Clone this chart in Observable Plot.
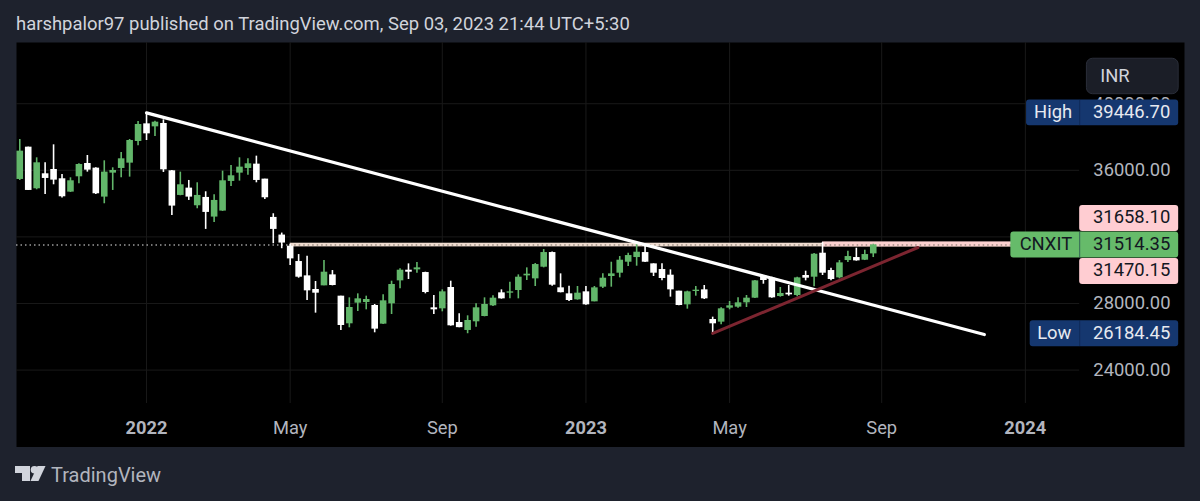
<!DOCTYPE html>
<html><head><meta charset="utf-8">
<style>
html,body{margin:0;padding:0;background:#1e222d;width:1200px;height:501px;overflow:hidden;font-family:Roboto,sans-serif}
#title{height:42px;line-height:49px;padding-left:16px;font-size:18.45px;color:#d1d4dc;white-space:nowrap}
#chart svg{display:block}
#foot{height:54px;position:relative}
#foot svg{position:absolute;left:15px;top:19px}
#foot span{position:absolute;left:51px;top:14px;font-size:20px;line-height:28px;color:#b2b5be}
</style>
<script src="https://cdn.jsdelivr.net/npm/d3@7"></script>
<script src="https://cdn.jsdelivr.net/npm/@observablehq/plot@0.6"></script>
</head><body>
<div id="title">harshpalor97 published on TradingView.com, Sep 03, 2023 21:44 UTC+5:30</div>
<div id="chart"></div>
<div id="foot"><svg width="31" height="16" viewBox="0 0 31 16"><path fill="#d1d4dc" d="M0 0H15V15H7V7H0Z"/><circle fill="#d1d4dc" cx="19.5" cy="3.8" r="3.8"/><path fill="#d1d4dc" d="M22.5 0H30.5L23.5 15H15.5Z"/></svg><span>TradingView</span></div>
<script>
const opens=[35450,37390,34890,35790,36050,35490,34690,35610,36410,36130,34390,35830,36110,36430,37730,
38790,38610,38810,35970,34490,34930,33870,34370,33190,33550,
35330,35830,36110,36370,35470,33170,32110,31440,30520,29660,
28840,29060,29720,28440,26780,28020,28060,27880,26760,27980,
29360,30000,30020,29860,27740,27680,28960,26860,26380,26900,
27220,27860,28640,28620,28780,29660,29480,30180,31060,28940,
28580,28220,28700,28100,28980,29620,29820,30480,30760,31060,
30380,30040,29700,28740,27920,28720,28820,27040,26880,27720,
27780,28040,28320,29640,29520,28420,28620,28480,29680,29580,
31020,29980,29540,30580,30760,30600,30980];
const highs=[37850,37390,36750,36450,37530,35750,35550,36390,36890,36150,36570,36150,37070,37850,38930,
39446.7,38950,39030,35990,35890,35390,35250,34710,34530,35950,
36290,36750,36690,36850,35470,33390,32230,31540,30940,30840,
29320,30580,29980,28440,28340,28580,28440,27940,28520,29340,
30080,30380,30460,29880,28480,28820,29340,27380,27260,27980,
28340,28460,28820,29280,29720,30140,30400,31240,31100,29780,
29040,29020,29020,29020,29780,30480,30820,31020,31580,31540,
30380,30380,30020,28740,28740,29020,29080,27180,27740,28120,
28340,28480,29380,29680,29580,28960,29080,29580,29940,31000,
31658.1,30120,30580,31140,31320,31200,31560];
const lows=[35390,34790,34830,34550,35130,34330,34670,35190,35890,34550,33990,34790,35550,35590,37470,
37790,38030,35870,33290,34470,34190,33690,32450,32870,33530,
35030,35350,35710,35250,34250,31590,31290,30280,29520,28180,
27420,29060,29060,26380,26540,27520,27620,26240,26740,27340,
28880,29440,29820,28580,27340,27500,26640,26540,26184.45,26580,
27200,27820,28260,28280,28280,29380,29020,30140,29040,28640,
28120,28200,27900,28100,28900,28980,29540,30220,30240,30460,
29620,29360,28380,27860,27660,28440,28240,26210,26720,27620,
27720,27760,28300,29160,28320,28380,28440,28400,29360,29000,
29680,29360,29480,30460,30540,30580,30760];
const closes=[37150,34790,36450,35510,35410,34410,35370,36350,36010,34590,35890,35990,36690,37790,38750,
38190,38890,36030,33850,35130,34390,34490,33470,34190,35370,
35670,36190,36390,35390,34350,32450,31630,30680,29580,28760,
28620,29880,29080,26680,27760,28280,28240,26460,28160,29140,
30000,29880,30140,28660,27620,28700,26660,26550,26980,27740,
27940,28320,28280,28700,29580,29760,30340,31060,29100,28650,
28180,28620,27920,28940,29520,29780,30600,30880,31080,30480,
29820,29500,28820,27880,28700,28800,28280,26780,27680,27860,
28040,28320,29360,29380,28340,28600,28520,29540,29520,30960,
29820,29440,30440,30820,30560,30940,31514.35];

const yGridValues=[24000,28000,32000,36000,40000];
const yTickValues=[24000,28000,36000,40000];
const xTickDates=["2022-01-03","2022-05-02","2022-09-05","2023-01-02","2023-05-01","2023-09-04","2024-01-01"];
const xTickLabels=["2022","May","Sep","2023","May","Sep","2024"];
const yearTicks=["2022-01-03","2023-01-02","2024-01-01"];

const fallTrendDates=["2022-01-03","2023-11-28"];
const fallTrendValues=[39446.7,26138];
const riseTrendDates=["2023-04-17","2023-10-04"];
const riseTrendValues=[26200,31363];

const tagLabels=["High","Low","CNXIT","",""];
const tagTexts=["39446.70","26184.45","31514.35","31658.10","31470.15"];
const tagCentres=[39446.7,26184.45,31514.35,33105,29922];
const tagLefts=["2024-01-02","2024-01-05","2023-12-20","2024-02-15","2024-02-15"];
const tagLabelAt=["2024-01-24","2024-01-25","2024-01-18","2024-01-24","2024-01-24"];
const tagFills=["#15376f","#15376f","#66bb6a","#ffcdd2","#ffcdd2"];
const tagInks=["#e6e9f0","#e6e9f0","#131722","#131722","#131722"];
const tagHalf=775;

const D=s=>new Date(s);
const weeks=d3.utcMonday.range(D("2021-09-20"),D("2023-09-04"));
const rows=weeks.map((d,i)=>({d,o:opens[i],h:highs[i],l:lows[i],c:closes[i],up:closes[i]>=opens[i]}));
const col=r=>r.up?"#62b66a":"#ffffff";
const tags=tagLabels.map((label,i)=>({label,text:tagTexts[i],v:tagCentres[i],left:D(tagLefts[i]),at:D(tagLabelAt[i]),fill:tagFills[i],ink:tagInks[i]}));
const domainStart=D("2021-09-17T07:00Z"),domainEnd=D("2024-05-11T20:00Z");
const gridEnd=D("2024-02-15"),tagDivider=D("2024-02-15"),tagRight=D("2024-05-07"),bandEnd=D("2023-12-21");
const labelOf=d=>xTickLabels[xTickDates.indexOf(d3.utcFormat("%Y-%m-%d")(d))];
const inrBox=[{x1:D("2024-02-21"),x2:D("2024-05-07"),y1:42700,y2:40570}];

const chart=Plot.plot({
  width:1200,height:405,marginLeft:16,marginRight:16,marginTop:0,marginBottom:0,
  style:{fontFamily:"Roboto, sans-serif",background:"transparent"},
  x:{type:"utc",domain:[domainStart,domainEnd],axis:null},
  y:{domain:[19351,43676],axis:null},
  marks:[
    Plot.frame({fill:"#000000",stroke:"none"}),
    Plot.ruleX(xTickDates.map(D),{y1:21994,y2:43676,stroke:"#191919",strokeWidth:1}),
    Plot.ruleY(yGridValues,{x1:domainStart,x2:gridEnd,stroke:"#191919",strokeWidth:1}),
    Plot.ruleY([31514.35],{x1:domainStart,x2:bandEnd,stroke:"#e8e8e8",strokeWidth:1.2,strokeDasharray:"1.5,3"}),
    Plot.rect([0],{x1:D("2022-05-02"),x2:bandEnd,y1:31400,y2:31620,fill:"#efdcd0"}),
    Plot.rect([0],{x1:D("2023-07-17"),x2:bandEnd,y1:31400,y2:31700,fill:"#fbd0cf"}),
    Plot.ruleY([31514.35],{x1:D("2022-05-02"),x2:bandEnd,stroke:"#6f675c",strokeWidth:1,strokeDasharray:"1.5,3"}),
    Plot.ruleX(rows,{x:"d",y1:"l",y2:"h",stroke:col,strokeWidth:1.6}),
    Plot.ruleX(rows,{x:"d",y1:"o",y2:"c",stroke:col,strokeWidth:6.6}),
    Plot.line(fallTrendDates.map((d,i)=>[D(d),fallTrendValues[i]]),{x:"0",y:"1",stroke:"#ffffff",strokeWidth:3.2}),
    Plot.line(riseTrendDates.map((d,i)=>[D(d),riseTrendValues[i]]),{x:"0",y:"1",stroke:"#7c2530",strokeWidth:3}),
    Plot.axisX({ticks:xTickDates.filter(d=>!yearTicks.includes(d)).map(D),tickFormat:labelOf,tickSize:0,dy:-36,fontSize:18.3,color:"#b2b5be",label:null}),
    Plot.axisX({ticks:yearTicks.map(D),tickFormat:labelOf,tickSize:0,dy:-36,fontSize:18.3,fontWeight:"bold",color:"#b2b5be",label:null}),
    Plot.axisY({anchor:"right",ticks:yTickValues,tickFormat:d=>d.toFixed(2),tickSize:0,textAnchor:"end",dx:-23,fontSize:18.4,color:"#b2b5be",label:null}),
    Plot.rect(tags,{x1:"left",x2:tagRight,y1:d=>d.v-tagHalf,y2:d=>d.v+tagHalf,fill:"fill",rx:3}),
    Plot.ruleX(tags.filter(d=>d.label),{x:tagDivider,y1:d=>d.v-tagHalf,y2:d=>d.v+tagHalf,stroke:"#0b1f45",strokeOpacity:.55,strokeWidth:1}),
    Plot.text(tags,{x:D("2024-04-30"),y:"v",text:"text",fill:"ink",textAnchor:"end",fontSize:18.4,dy:-1}),
    Plot.text(tags.filter(d=>d.label),{x:"at",y:"v",text:"label",fill:"ink",fontSize:18.4,dy:-1}),
    Plot.rect(inrBox,{x1:"x1",x2:"x2",y1:"y1",y2:"y2",fill:"#1b1e27",stroke:"#2a2e39",rx:6}),
    Plot.text(["INR"],{x:D("2024-03-03"),y:41640,textAnchor:"start",fill:"#d1d4dc",fontSize:18.4})
  ]
});
document.getElementById("chart").appendChild(chart);
</script>
</body></html>
